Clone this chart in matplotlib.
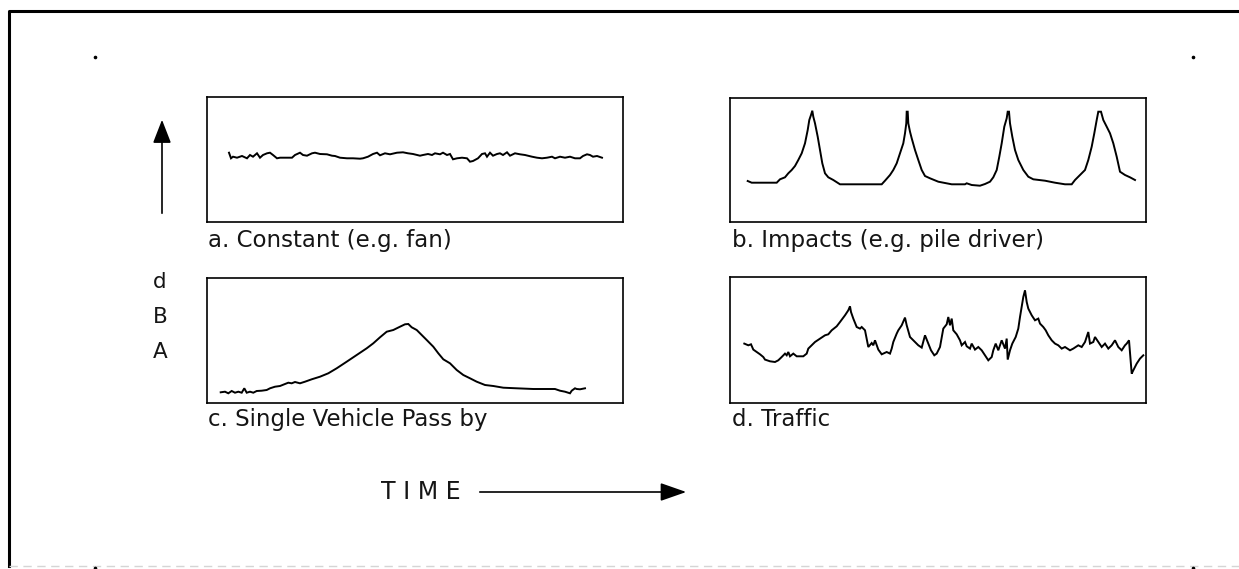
import matplotlib
matplotlib.use("Agg")
import matplotlib.pyplot as plt
from matplotlib.patches import FancyArrowPatch

plt.rcParams['font.family'] = ['DejaVu Sans']

# ---------------- data (time units, level units) ----------------
a_t = [22, 24, 26, 30, 35, 40, 43, 46, 50, 53, 56, 60, 63, 66, 70, 73, 80, 85, 88, 93, 96, 100,
       105, 108, 113, 120, 125, 128, 133, 140, 146, 153, 156, 161, 166, 170, 173, 178, 183, 190,
       196, 201, 206, 213, 216, 221, 225, 228, 233, 236, 240, 243, 246, 250, 255, 260, 263, 266,
       271, 275, 278, 280, 283, 286, 290, 293, 296, 300, 303, 308, 313, 318, 325, 330, 335, 340,
       345, 348, 353, 358, 363, 368, 373, 376, 380, 383, 386, 390, 395]
a_lvl = [69.3, 63.7, 65.3, 64.3, 66, 63.7, 67, 65.3, 68.7, 64.3, 67, 68.7, 69.3, 67, 63.7, 64.3,
         64.3, 64.3, 67, 69.3, 67, 66.3, 68.7, 69.3, 68, 67.7, 66.3, 66, 64.3, 63.7, 63.7, 63.3,
         63.7, 65.3, 68, 69.3, 66.7, 68.7, 67.7, 69.3, 69.7, 68.7, 68, 66.3, 67, 68, 67, 68.7,
         67.7, 69.3, 67, 68, 62.7, 63.7, 64.3, 63.7, 60.3, 61, 63.7, 68, 68.7, 65.3, 69.3, 66.3,
         68, 68.7, 67, 69.7, 66.3, 68.7, 67.7, 67, 65.3, 64.3, 63.7, 64.3, 65.3, 63.7, 65.3, 64.3,
         65.3, 63.7, 63.7, 66, 67.7, 67, 65.3, 66, 64.3]

b_t = [17.7, 21.7, 46.7, 50, 55, 58.3, 61.7, 65, 68.3, 71.7, 75, 77.7, 79.3, 81, 82.3, 83.3, 85,
       87.7, 90, 92.3, 95, 98.3, 103.3, 110, 151.7, 155, 160, 163.3, 166.7, 170, 173.3, 175, 176.3,
       176.7, 177.7, 178.3, 180, 181.7, 185, 188.3, 191.7, 195, 200, 208.3, 221.7, 235, 236.7,
       241.7, 250, 255, 260, 263.3, 266.7, 269.3, 271.7, 274.3, 276.7, 277.7, 279, 280, 282.3, 285,
       288.3, 293.3, 298.3, 303.3, 315, 325, 335, 341.7, 345, 350, 355, 358.3, 361.7, 364.3, 366.7,
       368.3, 371, 373.3, 376.7, 380, 383.3, 386.7, 390, 395, 400, 405]
b_lvl = [41, 39.3, 39.3, 42.7, 44.7, 48.7, 52, 56, 62, 68.7, 78.7, 92, 102, 107, 111.3, 105.3,
         98.7, 85.3, 72, 58.7, 48.7, 44.7, 42, 37.7, 37.7, 41.3, 47, 52, 58.7, 68.7, 78.7, 88.7,
         98.7, 110.3, 110.3, 98.7, 90.3, 83.7, 72, 62, 52, 46, 43.7, 40.3, 37.7, 37.7, 38.7, 37,
         36.3, 38, 40.3, 44.7, 52, 65.3, 78.7, 95.3, 103.7, 110.3, 110.3, 98.7, 85.3, 72, 62, 52,
         45.3, 42.7, 41.3, 39.3, 37.7, 37.7, 42, 47, 52, 62, 75.3, 88.7, 102, 110.3, 110.3, 102,
         95.3, 88.7, 78.7, 65.3, 50.3, 47, 44.7, 42]

c_t = [13.7, 18, 21.3, 24.7, 28, 31.3, 34.7, 37.3, 39.7, 43, 46.3, 49.7, 54.7, 59.7, 63, 68, 73,
       78, 81.3, 84.7, 88, 93, 98, 104.7, 113, 121.3, 129.7, 139.7, 149.7, 159.7, 166.3, 173,
       179.7, 186.3, 193, 198, 201.3, 204.7, 209.7, 214.7, 219.7, 226.3, 231.3, 236.3, 243, 249.7,
       256.3, 263, 269.7, 278, 286.3, 296.3, 309.7, 326.3, 339.7, 348, 353, 358, 363, 364.7, 368,
       369.7, 373, 378]
c_lvl = [10.7, 11.3, 9.7, 12, 10.3, 11.3, 10.3, 14.7, 10.3, 11.3, 10.3, 12, 12.3, 13, 14.7, 16.3,
         17, 19, 20.3, 19.7, 21, 19.7, 21.3, 23.7, 26.3, 29.7, 34.7, 41.3, 48, 54.7, 59.7, 65.7,
         71.3, 73, 76.3, 78.7, 79, 75.7, 73, 68, 63, 56.3, 49.7, 43.7, 39.7, 33, 28, 24.7, 21.3, 18,
         17, 15.3, 14.7, 14, 14, 14, 12.3, 11.3, 9.7, 12.3, 14.7, 14, 13.7, 14.7]

d_t = [14.3, 18.3, 21, 23.3, 26.7, 30, 33.3, 35, 40, 45, 48.3, 51.7, 55, 56.7, 58.3, 60, 63.3,
       66.7, 73.3, 76.7, 78.3, 81.7, 85, 90, 95, 98.3, 101.7, 106.7, 110, 115, 118.3, 120, 121,
       123.3, 126.7, 130, 131.7, 135, 138.3, 141.7, 143.3, 145, 148.3, 151.7, 156.7, 160, 161.7,
       163.3, 166.7, 168.3, 171.7, 175, 176.7, 180, 183.3, 186.7, 188.3, 191.7, 195, 197.7, 201,
       204.3, 206.7, 210, 213.3, 216.7, 218.3, 220, 221.7, 223.3, 226.7, 230, 231.7, 235, 236.7,
       240, 241.7, 245, 248.3, 251.7, 255, 258.3, 261.7, 263.3, 265.7, 268.3, 271.7, 275, 276.7,
       277.7, 280, 282.3, 285.7, 288.3, 290, 291.7, 293.3, 295, 296.7, 298.3, 301.7, 305, 308.3,
       310, 313.3, 315.7, 318.3, 321.7, 325, 328.3, 331.7, 335, 340, 343.3, 348.3, 351.7, 355,
       358.3, 360, 363.3, 365, 368.3, 371.7, 375, 378.3, 381.7, 385, 388.3, 391.7, 395, 396.7, 399,
       401.7, 403.3, 406.7, 410, 413.3]
d_lvl = [59.4, 57.7, 58.7, 53.4, 51, 48.7, 46, 43.4, 41.7, 41, 42.7, 46, 49.4, 47.7, 51, 46.7,
         49.4, 46.7, 46.7, 49.4, 54.4, 57.7, 61, 64.4, 67.7, 68.7, 72.7, 76.7, 81, 87.7, 92.7, 96.7,
         91, 84.4, 76, 74.4, 76, 72.7, 56, 60, 57.7, 62.7, 53.4, 48.7, 51, 49.4, 54.4, 61, 69.4,
         72.7, 77.7, 85.4, 77.7, 66, 62.7, 59.4, 57.7, 55.4, 67.7, 61, 52.7, 47.7, 49.4, 56, 74.4,
         78.7, 86, 77.7, 84.4, 72.7, 68.7, 62.7, 57.7, 61, 56.7, 54.4, 59.4, 53.4, 56, 52.7, 47.7,
         42.7, 46, 52.7, 59.4, 52.7, 62.7, 54.4, 64.4, 43.4, 52.7, 59.4, 66, 74.4, 86, 96, 106,
         112.7, 101, 94.4, 87.7, 82.7, 84.4, 79.4, 76, 72.7, 67.7, 62.7, 59.4, 57.7, 54.4, 56, 52.7,
         54.4, 57.7, 56, 61, 71, 59.4, 61, 66, 61, 56, 59.4, 54.4, 57.7, 62.7, 56, 52.7, 57.7, 59.4,
         62.7, 29.4, 32.7, 39.4, 44.4, 47.7]

labels = ["a. Constant (e.g. fan)", "b. Impacts (e.g. pile driver)",
          "c. Single Vehicle Pass by", "d. Traffic"]
y_letters = ["d", "B", "A"]
x_word = "TIME"

# ---------------- figure ----------------
W, H = 1239, 569
fig = plt.figure(figsize=(W / 100, H / 100), dpi=100)
fig.patch.set_facecolor("white")

# overlay for frame/annotations in pixel coordinates
ov = fig.add_axes([0, 0, 1, 1])
ov.set_xlim(0, W)
ov.set_ylim(H, 0)
ov.axis("off")

# outer frame (right side falls outside the image)
ov.plot([9, 9, W + 5], [566, 11, 11], color="black", lw=2.2, solid_capstyle="projecting")
ov.plot([9, W], [566, 566], color="#d5d5d5", lw=1.0, ls=(0, (6, 4)))
for (px, py) in [(95, 57), (1193, 57), (95, 568), (1193, 568)]:
    ov.plot(px, py, marker="o", ms=1.6, color="black")

def panel(rect_px, t, lvl, xmax, ymax):
    x0, y0, x1, y1 = rect_px
    ax = fig.add_axes([x0 / W, 1 - y1 / H, (x1 - x0) / W, (y1 - y0) / H])
    ax.plot(t, lvl, color="black", lw=1.4, solid_joinstyle="miter")
    ax.set_xlim(0, xmax)
    ax.set_ylim(0, ymax)
    ax.set_xticks([])
    ax.set_yticks([])
    for s in ax.spines.values():
        s.set_linewidth(1.2)
        s.set_color("black")
    return ax

panel((207, 97, 623, 222), a_t, a_lvl, 416, 125)
panel((730, 98, 1146, 222), b_t, b_lvl, 416, 124)
panel((207, 278, 623, 403), c_t, c_lvl, 416, 125)
panel((730, 277, 1146, 403), d_t, d_lvl, 416, 126)

lab_kw = dict(fontsize=16.5, color="#151515", va="center", ha="left")
ov.text(208, 240, labels[0], **lab_kw)
ov.text(732, 240, labels[1], **lab_kw)
ov.text(208, 419, labels[2], **lab_kw)
ov.text(732, 419, labels[3], **lab_kw)

# vertical dBA label and arrow
for letter, yy in zip(y_letters, [282, 317, 352]):
    ov.text(160, yy, letter, fontsize=15.5, ha="center", va="center", color="#151515")
ov.add_patch(FancyArrowPatch((162, 216), (162, 117), arrowstyle="-|>,head_length=9,head_width=3.5",
                             color="black", lw=1.2, mutation_scale=1.6))

# TIME label and arrow
ov.text(381, 492, " ".join(x_word), fontsize=17, ha="left", va="center", color="#151515")
ov.add_patch(FancyArrowPatch((477, 492), (689, 492), arrowstyle="-|>,head_length=10,head_width=3.5",
                             color="black", lw=1.2, mutation_scale=1.6))

fig.savefig("out.png", dpi=100, facecolor="white")
